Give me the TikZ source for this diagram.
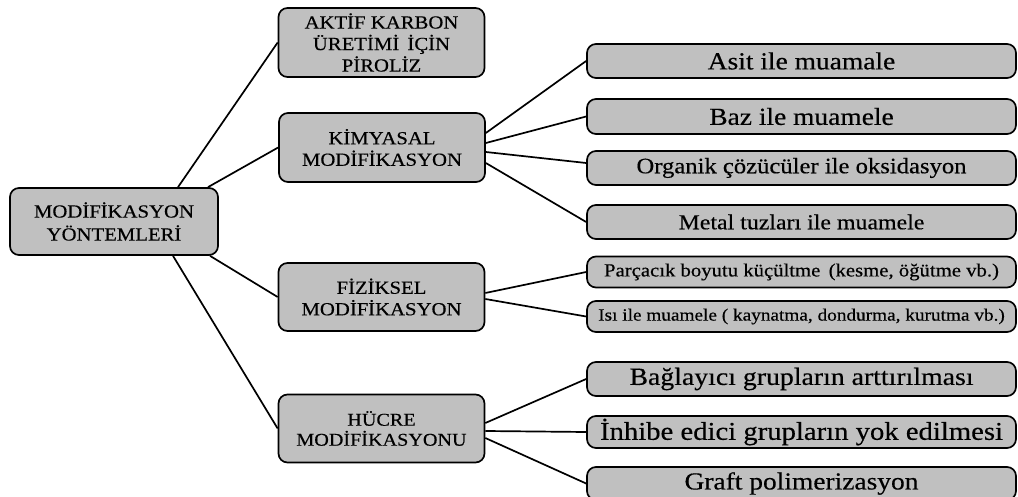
\documentclass[tikz,border=0pt]{standalone}
\usepackage{fontspec}
\setmainfont[FakeStretch=1.12,FakeBold=0.4]{Liberation Serif}
\usetikzlibrary{calc}
\definecolor{boxgray}{RGB}{192,192,192}
\tikzset{
  box/.style={draw, line width=1.7pt, rounded corners=9pt, fill=boxgray,
    align=center, inner sep=0pt},
  mainbox/.style={box, minimum width=206pt, minimum height=68pt,
    font=\fontsize{18.5}{21.5}\selectfont},
  subbox/.style={box, minimum width=429pt, minimum height=34pt},
  link/.style={line width=1.7pt}
}
\newcommand{\fs}[1]{\fontsize{#1}{#1}\selectfont}

\begin{document}
\begin{tikzpicture}[x=1pt,y=-1pt]
  \useasboundingbox (0,0) rectangle (1018,497);
  % first level
  \node[mainbox, minimum width=208pt, minimum height=67pt,
    font=\fontsize{18.5}{23}\selectfont] (root) at (114,221.5)
    {MODİFİKASYON\\YÖNTEMLERİ};
  \node[mainbox, minimum height=69pt] (aktif) at (381.5,42.5)
    {AKTİF KARBON\\ÜRETİMİ\, İÇİN\\PİROLİZ};
  \node[mainbox, minimum height=69pt] (kim) at (382,147.5)
    {KİMYASAL\\MODİFİKASYON};
  \node[mainbox] (fiz) at (381.5,297) {FİZİKSEL\\MODİFİKASYON};
  \node[mainbox, font=\fontsize{18}{20}\selectfont] (hucre) at (381.5,428.5)
    {HÜCRE\\MODİFİKASYONU};
  % second level
  \node[subbox, font=\fs{24.5}] (asit) at (801.5,61) {Asit ile muamale};
  \node[subbox, font=\fs{24.5}, minimum height=35pt] (baz) at (801.5,116.5)
    {Baz ile muamele};
  \node[subbox, font=\fs{22}] (org) at (801.5,168)
    {Organik çözücüler ile oksidasyon};
  \node[subbox, font=\fs{21.3}] (metal) at (801.5,222)
    {Metal tuzları ile muamele};
  \node[subbox, font=\fs{18.5}, minimum height=31pt] (parca) at (801.5,272)
    {Parçacık boyutu küçültme\, (kesme, öğütme vb.)};
  \node[subbox, font=\fs{17.2}, minimum height=31pt] (isi) at (801.5,316.5)
    {Isı ile muamele ( kaynatma, dondurma, kurutma vb.)};
  \node[subbox, font=\fs{24.8}] (bag) at (801.5,379)
    {Bağlayıcı grupların arttırılması};
  \node[subbox, font=\fs{25.6}, minimum height=32pt] (inh) at (801.5,432)
    {İnhibe edici grupların yok edilmesi};
  \node[subbox, font=\fs{24.5}, minimum height=33pt] (graft) at (801.5,483.5)
    {Graft polimerizasyon};
  % connectors
  \draw[link] ($(root.north)+(64,0)$) -- (aktif.west);
  \draw[link] ($(root.north)+(94,0)$) -- (kim.west);
  \draw[link] ($(root.south)+(96,0)$) -- (fiz.west);
  \draw[link] ($(root.south)+(59,0)$) -- (hucre.west);
  \draw[link] ($(kim.east)+(0,-14.5)$) -- (asit.west);
  \draw[link] ($(kim.east)+(0,-4.5)$) -- (baz.west);
  \draw[link] ($(kim.east)+(0,4.5)$) -- ($(org.west)+(0,-5)$);
  \draw[link] ($(kim.east)+(0,15.5)$) -- (metal.west);
  \draw[link] ($(fiz.east)+(0,-4)$) -- (parca.west);
  \draw[link] ($(fiz.east)+(0,2)$) -- (isi.west);
  \draw[link] ($(hucre.east)+(0,-5.5)$) -- (bag.west);
  \draw[link] ($(hucre.east)+(0,2.5)$) -- (inh.west);
  \draw[link] ($(hucre.east)+(0,9.5)$) -- (graft.west);
\end{tikzpicture}
\end{document}
